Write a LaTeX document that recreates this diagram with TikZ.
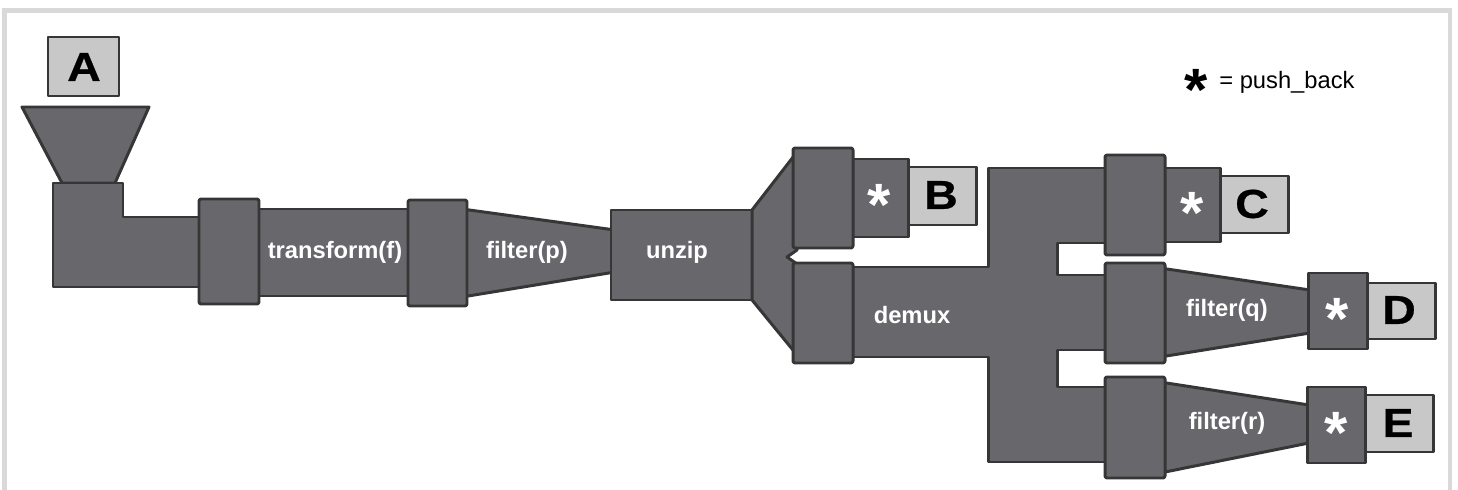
\documentclass[tikz,border=0pt]{standalone}
\usepackage{fontspec}
\setmainfont{Liberation Sans}
\newfontfamily\tagfont[FakeStretch=1.15,FakeBold=0.6]{Liberation Sans}
\definecolor{pipefill}{HTML}{68676B}
\definecolor{pipeedge}{HTML}{363636}
\definecolor{outletfill}{HTML}{C8C8C8}
\definecolor{framegray}{HTML}{D9D9D9}

\begin{document}
\begin{tikzpicture}[x=0.02cm,y=-0.02cm,
pipe/.style={fill=pipefill,draw=pipeedge,line width=1.7pt,line join=round},
coupling/.style={pipe,rounded corners=1.2pt},
outlet/.style={pipe,fill=outletfill},
stage/.style={text=white,font=\bfseries\fontsize{13.5}{16}\selectfont,inner sep=0pt},
letter/.style={font=\tagfont\bfseries\fontsize{23}{25}\selectfont,inner sep=0pt},
starmark/.style={text=white,font=\bfseries\fontsize{34}{34}\selectfont,anchor=base,yshift=-16pt,inner sep=0pt}]
\useasboundingbox (0,0) rectangle (1458,490);
\draw[framegray,line width=2.8pt] (4.5,490)--(4.5,10.5)--(1450,10.5)--(1450,490);

% source A, hopper and elbow
\draw[outlet] (48,37) rectangle (119,96);
\draw[pipe] (22,107)--(149,107)--(115,183)--(62,183)--cycle;
\draw[pipe] (53,183)--(123,183)--(123,217)--(205,217)--(205,287)--(53,287)--cycle;

% transform / filter / unzip
\draw[pipe] (255,209) rectangle (412,296);
\draw[pipe] (462,209)--(615,230)--(615,272)--(462,297)--cycle;
\draw[pipe] (611,210) rectangle (752,300);
\draw[pipe] (752,210)--(797,152)--(797,250)--(787,257)--(797,264)--(797,355)--(752,300)--cycle;
\draw[coupling] (199,199) rectangle (259,304);
\draw[coupling] (408,200) rectangle (467,306);

% branch B
\draw[pipe] (850,159) rectangle (908,237);
\draw[outlet] (908,167) rectangle (976,225);
\draw[coupling] (793,148) rectangle (853,248);

% demux manifold
\draw[pipe] (850,267)--(988,267)--(988,168)--(1108,168)--(1108,243)--(1057,243)--(1057,275)
  --(1108,275)--(1108,350)--(1057,350)--(1057,387)--(1108,387)--(1108,462)--(988,462)
  --(988,357)--(850,357)--cycle;
\draw[coupling] (793,263) rectangle (853,363);

% branches C, D, E
\draw[pipe] (1160,168) rectangle (1220,242);
\draw[outlet] (1220,176) rectangle (1288,233);
\draw[pipe] (1160,268)--(1310,290)--(1310,333)--(1160,357)--cycle;
\draw[pipe] (1308,273) rectangle (1367,349);
\draw[outlet] (1367,283) rectangle (1435,339);
\draw[pipe] (1160,382)--(1309,405)--(1309,443)--(1160,473)--cycle;
\draw[pipe] (1307,387) rectangle (1365,463);
\draw[outlet] (1365,395) rectangle (1433,452);
\draw[coupling] (1105,155) rectangle (1165,255);
\draw[coupling] (1105,263) rectangle (1165,363);
\draw[coupling] (1105,377) rectangle (1165,478);

% labels
\node[stage] (tf) at (335,252) {transform(f)};
\node[stage] (fp) at (527,252) {filter(p)};
\node[stage] (uz) at (677,252) {unzip};
\node[stage] (dm) at (912,315) {demux};
\node[stage] (fq) at (1227,310) {filter(q)};
\node[stage] (fr) at (1227,423) {filter(r)};

\node[letter] (la) at (84,67) {A};
\node[letter] (lb) at (941,195) {B};
\node[letter] (lc) at (1252,204) {C};
\node[letter] (ld) at (1399,310) {D};
\node[letter] (le) at (1398,423) {E};

\node[starmark] (sb) at (879,197) {*};
\node[starmark] (sc) at (1192,205) {*};
\node[starmark] (sd) at (1337,311) {*};
\node[starmark] (se) at (1336,425) {*};

% legend
\node[starmark,text=black] (key) at (1196,82) {*};
\node[anchor=west,inner sep=0pt,font=\fontsize{13.5}{16}\selectfont] (keytext) at (1219,82) {= push\_back};
\end{tikzpicture}
\end{document}
